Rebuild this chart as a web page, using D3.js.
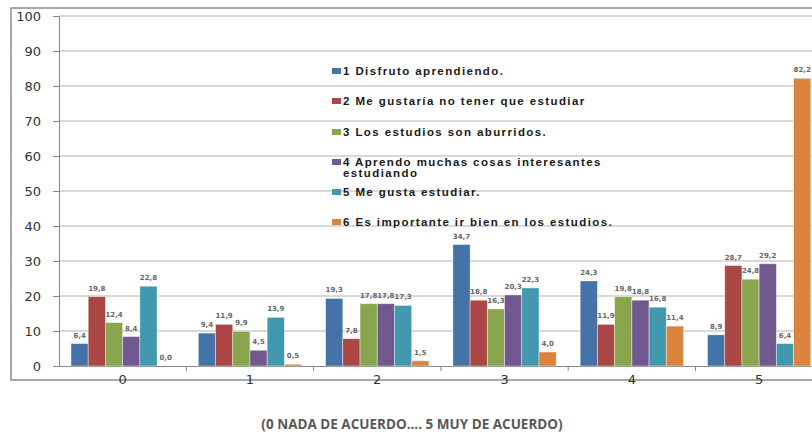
<!DOCTYPE html>
<html><head><meta charset="utf-8">
<script src="https://cdn.jsdelivr.net/npm/d3@7"></script>
<style>
html,body{margin:0;padding:0;background:#fff;overflow:hidden}
svg{display:block}
</style></head>
<body>
<svg id="chart" width="812" height="435"></svg>
<script>
const categories = ["0","1","2","3","4","5"];
const seriesNames = [
  "1 Disfruto aprendiendo.",
  "2 Me gustaría no tener que estudiar",
  "3 Los estudios son aburridos.",
  "4 Aprendo muchas cosas interesantes|estudiando",
  "5 Me gusta estudiar.",
  "6 Es importante ir bien en los estudios."
];
const s1 = [6.4, 9.4, 19.3, 34.7, 24.3, 8.9];
const s2 = [19.8, 11.9, 7.8, 18.8, 11.9, 28.7];
const s3 = [12.4, 9.9, 17.8, 16.3, 19.8, 24.8];
const s4 = [8.4, 4.5, 17.8, 20.3, 18.8, 29.2];
const s5 = [22.8, 13.9, 17.3, 22.3, 16.8, 6.4];
const s6 = [0.0, 0.5, 1.5, 4.0, 11.4, 82.2];
const yTicks = [0,10,20,30,40,50,60,70,80,90,100];
const colors = ["#4572A7","#AA4643","#89A54E","#71588F","#4198AF","#DB843D"];
const xTitle = "(0 NADA DE ACUERDO.... 5 MUY DE ACUERDO)";

const series = [s1,s2,s3,s4,s5,s6];
const svg = d3.select("#chart");
const left = 59, bandW = 127.3;
const x0 = d3.scaleBand().domain(categories).range([left, left + bandW*categories.length]);
const x1 = d3.scaleBand().domain(d3.range(series.length)).range([12, bandW-12]);
const y = d3.scaleLinear().domain([0,100]).range([366,16]);

// outer border
svg.append("rect").attr("x",11).attr("y",8).attr("width",830).attr("height",372)
  .attr("fill","none").attr("stroke","#8c8c8c").attr("stroke-width",1.5);

// gridlines
svg.append("g").selectAll("line").data(yTicks.filter(d=>d>0)).join("line")
  .attr("x1",left).attr("x2",812).attr("y1",d=>y(d)).attr("y2",d=>y(d))
  .attr("stroke","#b3b3b3").attr("stroke-width",1.2);

// y axis
const yAxis = svg.append("g").attr("transform",`translate(${left},0)`)
  .call(d3.axisLeft(y).tickValues(yTicks).tickSize(6).tickPadding(12));
yAxis.select(".domain").attr("stroke","#888");
yAxis.selectAll(".tick line").attr("stroke","#888");
yAxis.selectAll("text").attr("font-family","DejaVu Sans").attr("font-size",13).attr("fill","#333");

// x axis
const xAxis = svg.append("g").attr("transform","translate(0,366)")
  .call(d3.axisBottom(x0).tickSize(0).tickPadding(9));
xAxis.select(".domain").attr("stroke","#888");
xAxis.selectAll("text").attr("font-family","DejaVu Sans").attr("font-size",13).attr("fill","#333");
svg.append("g").selectAll("line").data(categories.slice(1)).join("line")
  .attr("x1",d=>x0(d)).attr("x2",d=>x0(d)).attr("y1",366).attr("y2",371)
  .attr("stroke","#888");

// bars
const groups = svg.append("g").selectAll("g").data(categories).join("g")
  .attr("transform",d=>`translate(${x0(d)},0)`);
groups.selectAll("rect").data((c,i)=>series.map((s,k)=>({k, v:s[i]}))).join("rect")
  .attr("x",d=>x1(d.k)).attr("width",x1.bandwidth())
  .attr("y",d=>y(d.v)).attr("height",d=>y(0)-y(d.v))
  .attr("fill",d=>colors[d.k]).attr("stroke","#ffffff").attr("stroke-opacity",0.5).attr("stroke-width",0.8);
groups.selectAll("text").data((c,i)=>series.map((s,k)=>({k, v:s[i]}))).join("text")
  .attr("x",d=>x1(d.k)+x1.bandwidth()/2).attr("y",d=>y(d.v)-6)
  .attr("text-anchor","middle").attr("font-family","DejaVu Sans").attr("font-size",7)
  .attr("font-weight","bold").attr("fill","#666")
  .text(d=>d.v.toFixed(1).replace(".",","));

// legend
const legY = [71,101,132,162,192,222];
const leg = svg.append("g");
seriesNames.forEach((n,i)=>{
  leg.append("rect").attr("x",332).attr("y",legY[i]-3).attr("width",9).attr("height",6).attr("fill",colors[i]);
  const parts = n.split("|");
  parts.forEach((p,j)=>{
    leg.append("text").attr("x",343).attr("y",legY[i]+4+j*10.5)
      .attr("font-family","Liberation Sans").attr("font-size",11.5).attr("font-weight","bold")
      .attr("letter-spacing",1.4).attr("fill","#1a1a1a").text(p);
  });
});

// x title
svg.append("text").attr("x",412).attr("y",429).attr("text-anchor","middle")
  .attr("font-family","Open Sans").attr("font-weight","bold").attr("font-size",13.5)
  .attr("fill","#595959").text(xTitle);
</script>
</body></html>
